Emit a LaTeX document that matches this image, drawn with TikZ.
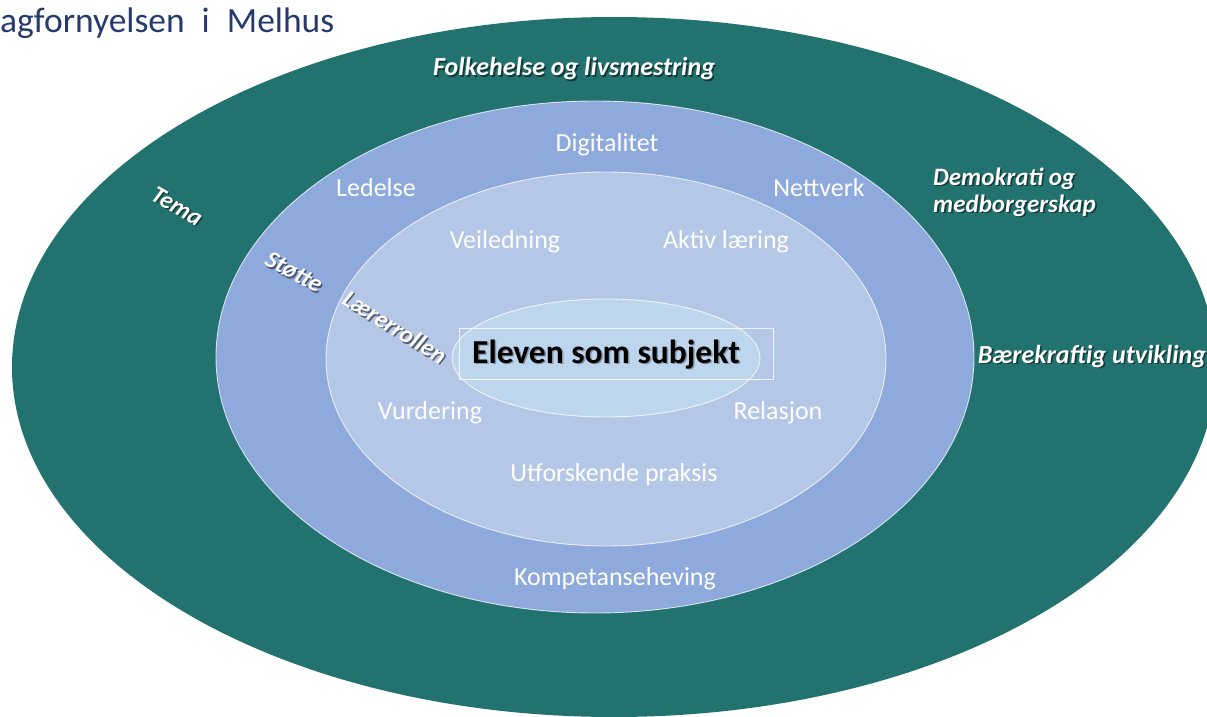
\documentclass[tikz,border=0pt]{standalone}
\usepackage{fontspec}
\setmainfont{Carlito}
\definecolor{tealring}{RGB}{34,115,112}
\definecolor{bluering}{RGB}{142,169,219}
\definecolor{innerring}{RGB}{180,199,231}
\definecolor{coreblue}{RGB}{190,214,237}
\definecolor{titleblue}{RGB}{38,58,110}
\tikzset{
  ringline/.style={draw=white, draw opacity=0.75, line width=0.9pt},
  lbl/.style={text=white, inner sep=0pt, anchor=base, font=\fontsize{26}{31}\selectfont},
  theme/.style={text=white, inner sep=0pt, font=\fontsize{26}{31}\selectfont\bfseries\itshape},
  themeshadow/.style={theme, text=black, text opacity=0.5, xshift=1.6pt, yshift=-1.8pt},
  themetwo/.style={theme, anchor=base west, font=\fontsize{25}{30}\selectfont\bfseries\itshape},
  themetwoshadow/.style={themetwo, text=black, text opacity=0.5, xshift=1.6pt, yshift=-1.8pt},
  rotlbl/.style={text=white, inner sep=0pt, font=\fontsize{24.5}{28}\selectfont\bfseries\itshape},
  rotshadow/.style={rotlbl, text=black, text opacity=0.5, xshift=1.4pt, yshift=-1.6pt},
}
\begin{document}
\begin{tikzpicture}[x=1pt,y=-1pt]
\clip (0,0) rectangle (1207,717);
\fill[white] (0,0) rectangle (1207,717);
% rings
\fill[tealring] (614,367) ellipse [x radius=602, y radius=350];
\filldraw[fill=bluering, ringline] (595,357) ellipse [x radius=379, y radius=256];
\filldraw[fill=innerring, ringline] (606,359) ellipse [x radius=280, y radius=187];
\filldraw[fill=coreblue, ringline] (606,358) ellipse [x radius=154, y radius=59];
\draw[draw=white, draw opacity=0.8, line width=0.8pt] (459,328) rectangle (773,379);
% title
\node[anchor=base west, inner sep=0pt, text=titleblue, font=\fontsize{35.5}{40}\selectfont] (title) at (0,33) {agfornyelsen\hspace{9pt} i\hspace{9pt} Melhus};
% outer themes
\node[themeshadow, anchor=base] (folk-sh) at (574,76) {Folkehelse og livsmestring};
\node[theme, anchor=base] (folk) at (574,76) {Folkehelse og livsmestring};
\node[themetwoshadow] (demo1-sh) at (933,185) {Demokrati og};
\node[themetwo] (demo1) at (933,185) {Demokrati og};
\node[themetwoshadow] (demo2-sh) at (933,212) {medborgerskap};
\node[themetwo] (demo2) at (933,212) {medborgerskap};
\node[themeshadow, anchor=base] (baer-sh) at (1092,363) {Bærekraftig utvikling};
\node[theme, anchor=base] (baer) at (1092,363) {Bærekraftig utvikling};
% rotated labels
\node[rotshadow, rotate=-30] (tema-sh) at (177,206) {Tema};
\node[rotlbl, rotate=-30] (tema) at (177,206) {Tema};
\node[rotshadow, rotate=-28] (stotte-sh) at (294,272) {Støtte};
\node[rotlbl, rotate=-28] (stotte) at (294,272) {Støtte};
\node[rotshadow, rotate=-32] (laerer-sh) at (395,327) {Lærerrollen};
\node[rotlbl, rotate=-32] (laerer) at (395,327) {Lærerrollen};
% blue ring labels
\node[lbl] (digital) at (607,151) {Digitalitet};
\node[lbl] (ledelse) at (376,196) {Ledelse};
\node[lbl] (nettverk) at (819,196) {Nettverk};
\node[lbl] (kompetanse) at (615,585) {Kompetanseheving};
% inner ring labels
\node[lbl] (veiledning) at (505,248) {Veiledning};
\node[lbl] (aktiv) at (726,248) {Aktiv læring};
\node[lbl] (vurdering) at (430,419) {Vurdering};
\node[lbl] (relasjon) at (778,419) {Relasjon};
\node[lbl] (utforskende) at (614,481) {Utforskende praksis};
% core
\node[anchor=base, inner sep=0pt, text=black, text opacity=0.3, font=\fontsize{33.5}{38}\selectfont\bfseries, xshift=1.5pt, yshift=-1.5pt] (eleven-sh) at (606,363) {Eleven som subjekt};
\node[anchor=base, inner sep=0pt, text=black, font=\fontsize{33.5}{38}\selectfont\bfseries] (eleven) at (606,363) {Eleven som subjekt};
\end{tikzpicture}
\end{document}
